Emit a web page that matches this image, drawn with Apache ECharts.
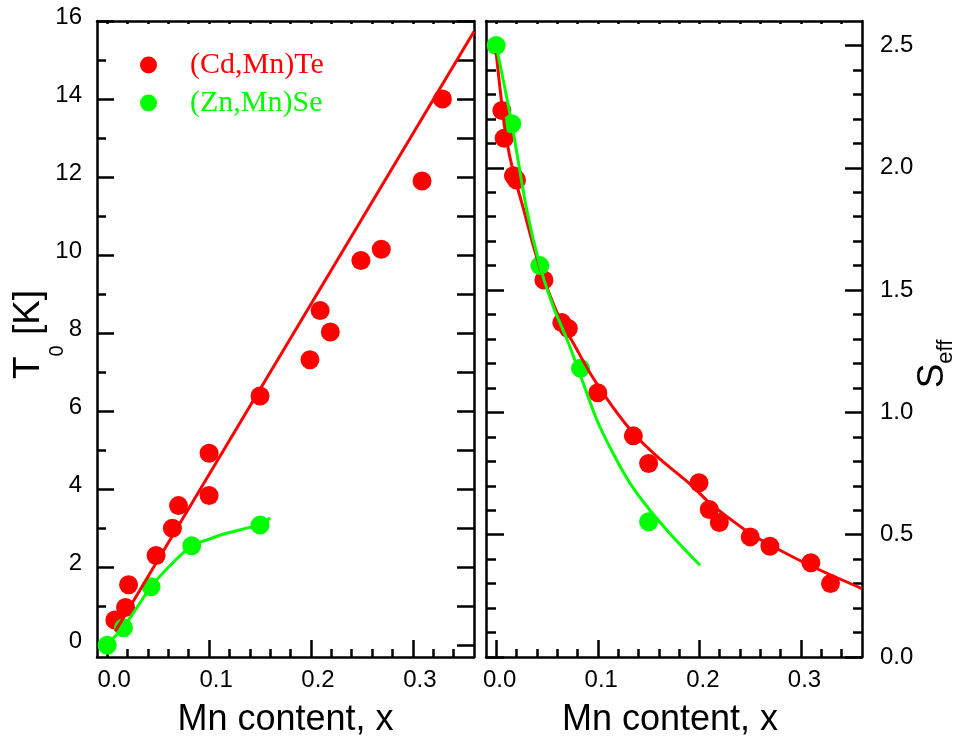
<!DOCTYPE html>
<html>
<head>
<meta charset="utf-8">
<script src="https://cdn.jsdelivr.net/npm/echarts@6/dist/echarts.min.js"></script>
<style>
  html, body { margin: 0; padding: 0; background: #ffffff; }
  #chart { width: 969px; height: 742px; }
</style>
</head>
<body>
<div id="chart"></div>
<script>
// ---- Data: Mn content x versus T0 (left) and S_eff (right) ----
// (Cd,Mn)Te, T0 [K]
const cdmnteT0 = [
  [0.0075, 0.65], [0.018, 0.97], [0.021, 1.55], [0.048, 2.30], [0.064, 3.00],
  [0.070, 3.58], [0.100, 3.84], [0.100, 4.92], [0.150, 6.39], [0.199, 7.32],
  [0.209, 8.58], [0.219, 8.03], [0.249, 9.86], [0.269, 10.15], [0.309, 11.90],
  [0.329, 14.00]
];
// (Zn,Mn)Se, T0 [K]
const znmnseT0 = [
  [0.000, 0.00], [0.016, 0.45], [0.043, 1.50], [0.083, 2.55], [0.150, 3.08]
];
// fitted lines for T0
const cdmnteT0Fit = [[0.008, 0.36], [0.360, 15.73]];
const znmnseT0Fit = [
  [0.000, 0.02], [0.016, 0.47], [0.030, 1.00], [0.043, 1.50], [0.062, 2.05],
  [0.083, 2.55], [0.100, 2.72], [0.117, 2.87], [0.135, 2.99], [0.150, 3.10],
  [0.160, 3.26]
];
// (Cd,Mn)Te, S_eff
const cdmnteSeff = [
  [0.0056, 2.234], [0.0079, 2.121], [0.017, 1.967], [0.020, 1.950], [0.047, 1.541],
  [0.0646, 1.367], [0.071, 1.343], [0.100, 1.080], [0.135, 0.904], [0.150, 0.791],
  [0.1996, 0.712], [0.2097, 0.603], [0.2196, 0.550], [0.250, 0.491], [0.2694, 0.453],
  [0.3097, 0.385], [0.329, 0.300]
];
// (Zn,Mn)Se, S_eff
const znmnseSeff = [
  [0.000, 2.50], [0.0154, 2.18], [0.043, 1.60], [0.083, 1.18], [0.150, 0.553]
];
// fitted curves for S_eff
const cdmnteSeffFit = [
  [0.000, 2.47], [0.005, 2.28], [0.010, 2.12], [0.017, 1.98], [0.027, 1.83],
  [0.038, 1.66], [0.050, 1.51], [0.063, 1.38], [0.079, 1.26], [0.094, 1.15],
  [0.115, 1.02], [0.135, 0.915], [0.161, 0.81], [0.190, 0.71], [0.210, 0.63],
  [0.230, 0.565], [0.250, 0.505], [0.270, 0.457], [0.312, 0.368], [0.360, 0.28]
];
const znmnseSeffFit = [
  [0.000, 2.50], [0.0154, 2.18], [0.030, 1.83], [0.043, 1.60], [0.0564, 1.43],
  [0.0696, 1.30], [0.083, 1.15], [0.099, 0.97], [0.1154, 0.83], [0.1318, 0.71],
  [0.1514, 0.60], [0.174, 0.491], [0.2006, 0.375]
];

// ---- Axis ranges and tick positions ----
const xRange = [-0.01, 0.36];
const t0Range = [-0.3, 16];
const seffRange = [0, 2.6];
const xMajorTicks = [0, 0.1, 0.2, 0.3];
const xMinorTicks = [0.02, 0.04, 0.06, 0.08, 0.12, 0.14, 0.16, 0.18, 0.22, 0.24, 0.26, 0.28, 0.32, 0.34];
const xTopTicks = [0, 0.02, 0.04, 0.06, 0.08, 0.1, 0.12, 0.14, 0.16, 0.18, 0.2, 0.22, 0.24, 0.26, 0.28, 0.3, 0.32, 0.34];
const t0MajorTicks = [0, 2, 4, 6, 8, 10, 12, 14, 16];
const t0MinorTicks = [1, 3, 5, 7, 9, 11, 13, 15];
const t0AllTicks = [0, 1, 2, 3, 4, 5, 6, 7, 8, 9, 10, 11, 12, 13, 14, 15, 16];
const seffMajorTicks = [0, 0.5, 1.0, 1.5, 2.0, 2.5];
const seffMinorTicks = [0.1, 0.2, 0.3, 0.4, 0.6, 0.7, 0.8, 0.9, 1.1, 1.2, 1.3, 1.4, 1.6, 1.7, 1.8, 1.9, 2.1, 2.2, 2.3, 2.4];

const seriesNames = ['(Cd,Mn)Te', '(Zn,Mn)Se'];
const RED = '#ff0000';
const GREEN = '#00ff00';
const SANS = "'Liberation Sans', Arial, Helvetica, sans-serif";
const SERIF = "'Liberation Serif', 'Times New Roman', Times, serif";
const FRAME_W = 2.5;

// One axis of a panel frame: optional line, inward ticks at fixed values, optional labels.
function frameAxis(o) {
  const ax = {
    type: 'value',
    gridIndex: o.grid,
    position: o.pos,
    min: o.range[0],
    max: o.range[1],
    axisLine: { show: !!o.line, onZero: false, lineStyle: { color: '#000', width: FRAME_W } },
    axisTick: o.ticks
      ? { show: true, inside: true, length: o.len, customValues: o.ticks,
          lineStyle: { color: '#000', width: FRAME_W } }
      : { show: false },
    axisLabel: { show: false },
    splitLine: { show: false },
    minorTick: { show: false },
    minorSplitLine: { show: false }
  };
  if (o.labels) {
    ax.axisLabel = Object.assign({
      show: true,
      customValues: o.labels,
      formatter: o.fmt,
      margin: o.margin,
      fontFamily: SANS,
      fontSize: 24,
      color: '#000',
      lineHeight: 24,
      padding: o.labelPad || 0
    }, o.labelStyle || {});
  }
  if (o.name) {
    ax.name = o.name;
    ax.nameLocation = 'middle';
    ax.nameGap = o.nameGap;
    ax.nameRotate = o.nameRotate;
    ax.nameMoveOverlap = false;
    ax.nameTextStyle = Object.assign({
      fontFamily: SANS, fontSize: 36, color: '#000', lineHeight: 36
    }, o.nameStyle || {});
  }
  return ax;
}

const fmt1 = v => v.toFixed(1);
const fmt0 = v => String(Math.round(v));

const xAxes = [
  // left panel
  frameAxis({ grid: 0, pos: 'bottom', range: xRange, line: true, ticks: xMajorTicks, len: 17,
    labels: xMajorTicks, fmt: fmt1, margin: 11, labelPad: [0, 0, 0, 14],
    name: 'Mn content, x', nameGap: 45 }),
  frameAxis({ grid: 0, pos: 'bottom', range: xRange, ticks: xMinorTicks, len: 8 }),
  frameAxis({ grid: 0, pos: 'top', range: xRange, line: true, ticks: xTopTicks, len: 3 }),
  // right panel
  frameAxis({ grid: 1, pos: 'bottom', range: xRange, line: true, ticks: xMajorTicks, len: 17,
    labels: xMajorTicks, fmt: fmt1, margin: 11, labelPad: [0, 0, 0, 7],
    name: 'Mn content, x', nameGap: 45, nameStyle: { padding: [0, 8, 0, 0] } }),
  frameAxis({ grid: 1, pos: 'bottom', range: xRange, ticks: xMinorTicks, len: 8 }),
  frameAxis({ grid: 1, pos: 'top', range: xRange, line: true, ticks: xTopTicks, len: 3 })
];

const yAxes = [
  // left panel: T0 (labels sit a little above their ticks)
  frameAxis({ grid: 0, pos: 'left', range: t0Range, line: true, ticks: t0MajorTicks, len: 17,
    labels: t0MajorTicks, fmt: fmt0, margin: 15,
    labelStyle: { lineHeight: 8, verticalAlign: 'bottom' },
    name: 'T{s|0} [K]', nameGap: 50, nameRotate: 90,
    nameStyle: { fontSize: 37, lineHeight: 37, padding: [0, 0, 0, 9],
      rich: { s: { fontFamily: SANS, fontSize: 20, lineHeight: 20, color: '#000', padding: [57, 0, 0, 0] } } } }),
  frameAxis({ grid: 0, pos: 'left', range: t0Range, ticks: t0MinorTicks, len: 9 }),
  frameAxis({ grid: 0, pos: 'right', range: t0Range, line: true, ticks: t0AllTicks, len: 17 }),
  // right panel: S_eff
  frameAxis({ grid: 1, pos: 'right', range: seffRange, line: true, ticks: seffMajorTicks, len: 17,
    labels: seffMajorTicks, fmt: fmt1, margin: 18,
    name: 'S{s|eff}', nameGap: 52, nameRotate: 90,
    nameStyle: { fontSize: 37, lineHeight: 37, padding: [0, 50, 0, 0],
      rich: { s: { fontFamily: SANS, fontSize: 22, lineHeight: 22, color: '#000', padding: [27, 0, 0, 0] } } } }),
  frameAxis({ grid: 1, pos: 'right', range: seffRange, ticks: seffMinorTicks, len: 9 }),
  frameAxis({ grid: 1, pos: 'left', range: seffRange, line: true, ticks: seffMajorTicks, len: 18 }),
  frameAxis({ grid: 1, pos: 'left', range: seffRange, ticks: seffMinorTicks, len: 10 })
];

function dots(name, data, color, xi, yi) {
  return { type: 'scatter', name: name, data: data, xAxisIndex: xi, yAxisIndex: yi,
    symbol: 'circle', symbolSize: 19, itemStyle: { color: color, opacity: 1 }, silent: true };
}
function curve(name, data, color, xi, yi, smooth) {
  return { type: 'line', name: name, data: data, xAxisIndex: xi, yAxisIndex: yi,
    symbol: 'none', smooth: smooth,
    lineStyle: { color: color, width: 3 }, itemStyle: { color: color }, silent: true };
}

const option = {
  animation: false,
  backgroundColor: '#ffffff',
  grid: [
    { left: 97, top: 21, width: 377, height: 636, outerBoundsMode: 'none', containLabel: false },
    { left: 486, top: 21, width: 376, height: 636, outerBoundsMode: 'none', containLabel: false }
  ],
  xAxis: xAxes,
  yAxis: yAxes,
  legend: {
    orient: 'vertical',
    left: 135,
    top: 45,
    itemWidth: 17,
    itemHeight: 17,
    itemGap: 8,
    icon: 'circle',
    selectedMode: false,
    textStyle: { fontFamily: SERIF, fontSize: 30, lineHeight: 30, padding: [0, 0, 0, 28] },
    data: [
      { name: seriesNames[0], textStyle: { color: RED } },
      { name: seriesNames[1], textStyle: { color: GREEN } }
    ]
  },
  series: [
    // left panel
    dots(seriesNames[0], cdmnteT0, RED, 0, 0),
    curve('T0 fit (Cd,Mn)Te', cdmnteT0Fit, RED, 0, 0, false),
    dots(seriesNames[1], znmnseT0, GREEN, 0, 0),
    curve('T0 fit (Zn,Mn)Se', znmnseT0Fit, GREEN, 0, 0, 0.3),
    // right panel
    dots(seriesNames[0], cdmnteSeff, RED, 3, 3),
    curve('Seff fit (Cd,Mn)Te', cdmnteSeffFit, RED, 3, 3, 0.3),
    dots(seriesNames[1], znmnseSeff, GREEN, 3, 3),
    curve('Seff fit (Zn,Mn)Se', znmnseSeffFit, GREEN, 3, 3, 0.3)
  ]
};

const chart = echarts.init(document.getElementById('chart'), null, { renderer: 'canvas' });
chart.setOption(option);
</script>
</body>
</html>
